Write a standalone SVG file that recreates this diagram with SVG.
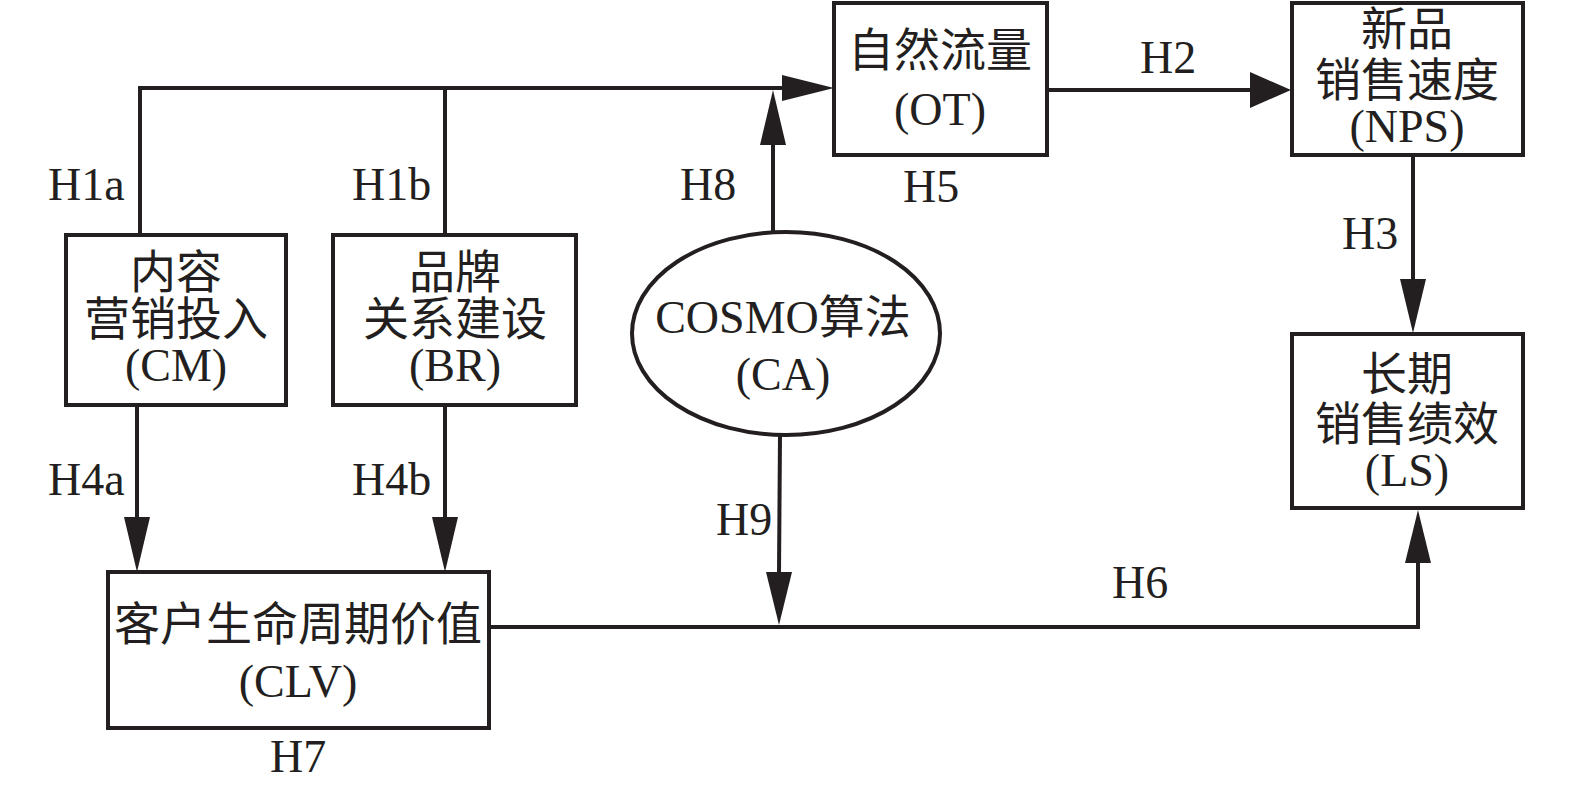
<svg xmlns="http://www.w3.org/2000/svg" width="1575" height="788" viewBox="0 0 1575 788">
<style>
.box{fill:#fff;stroke:#231f20;stroke-width:4}
.ln{fill:none;stroke:#231f20;stroke-width:4;stroke-linejoin:miter}
.ah{fill:#231f20;stroke:none}
text{font-family:"Liberation Serif","Noto Sans CJK SC",serif;font-size:46px;fill:#231f20}
.c{text-anchor:middle}
</style>
<rect width="1575" height="788" fill="#fff"/>
<g id="connectors">
<polyline class="ln" points="140,235 140,88 784,88"/>
<line class="ln" x1="445" y1="235" x2="445" y2="88"/>
<polygon class="ah" points="782,75 834,88 782,101"/>
<line class="ln" x1="773" y1="232" x2="773" y2="143"/>
<polygon class="ah" points="760,145 773,90 786,145"/>
<line class="ln" x1="1047" y1="90" x2="1252" y2="90"/>
<polygon class="ah" points="1250,72 1291,90 1250,108"/>
<line class="ln" x1="1413" y1="155" x2="1413" y2="281"/>
<polygon class="ah" points="1400,279 1413,333 1426,279"/>
<line class="ln" x1="137" y1="405" x2="137" y2="519"/>
<polygon class="ah" points="124,517 137,572 150,517"/>
<line class="ln" x1="445" y1="405" x2="445" y2="519"/>
<polygon class="ah" points="432,517 445,572 458,517"/>
<line class="ln" x1="780" y1="435" x2="779" y2="574"/>
<polygon class="ah" points="766,572 779,625 792,572"/>
<polyline class="ln" points="489,627 1418,627 1418,561"/>
<polygon class="ah" points="1405,563 1418,510 1431,563"/>
<text x="48" y="200">H1a</text>
<text x="352" y="200">H1b</text>
<text x="680" y="200">H8</text>
<text x="903" y="202">H5</text>
<text x="1140" y="73">H2</text>
<text x="1342" y="249">H3</text>
<text x="48" y="495">H4a</text>
<text x="352" y="495">H4b</text>
<text x="716" y="535">H9</text>
<text x="1112" y="598">H6</text>
<text x="270" y="772">H7</text>
</g>
<g id="CM">
<rect class="box" x="66" y="235" width="220" height="170"/>
<text class="c" x="176" y="288">内容</text>
<text class="c" x="176" y="335">营销投入</text>
<text class="c" x="176" y="381">(CM)</text>
</g>
<g id="BR">
<rect class="box" x="333" y="235" width="243" height="170"/>
<text class="c" x="455" y="288">品牌</text>
<text class="c" x="455" y="335">关系建设</text>
<text class="c" x="455" y="381">(BR)</text>
</g>
<g id="CA">
<ellipse class="box" cx="786" cy="333.5" rx="154" ry="101.5"/>
<text class="c" x="783" y="333">COSMO算法</text>
<text class="c" x="783" y="390">(CA)</text>
</g>
<g id="OT">
<rect class="box" x="834" y="3" width="213" height="152"/>
<text class="c" x="940" y="66">自然流量</text>
<text class="c" x="940" y="125">(OT)</text>
</g>
<g id="NPS">
<rect class="box" x="1292" y="3" width="231" height="152"/>
<text class="c" x="1407" y="45">新品</text>
<text class="c" x="1407" y="96">销售速度</text>
<text class="c" x="1407" y="142">(NPS)</text>
</g>
<g id="LS">
<rect class="box" x="1292" y="334" width="231" height="174"/>
<text class="c" x="1407" y="390">长期</text>
<text class="c" x="1407" y="440">销售绩效</text>
<text class="c" x="1407" y="486">(LS)</text>
</g>
<g id="CLV">
<rect class="box" x="108" y="572" width="381" height="156"/>
<text class="c" x="298" y="640">客户生命周期价值</text>
<text class="c" x="298" y="697">(CLV)</text>
</g>
</svg>
